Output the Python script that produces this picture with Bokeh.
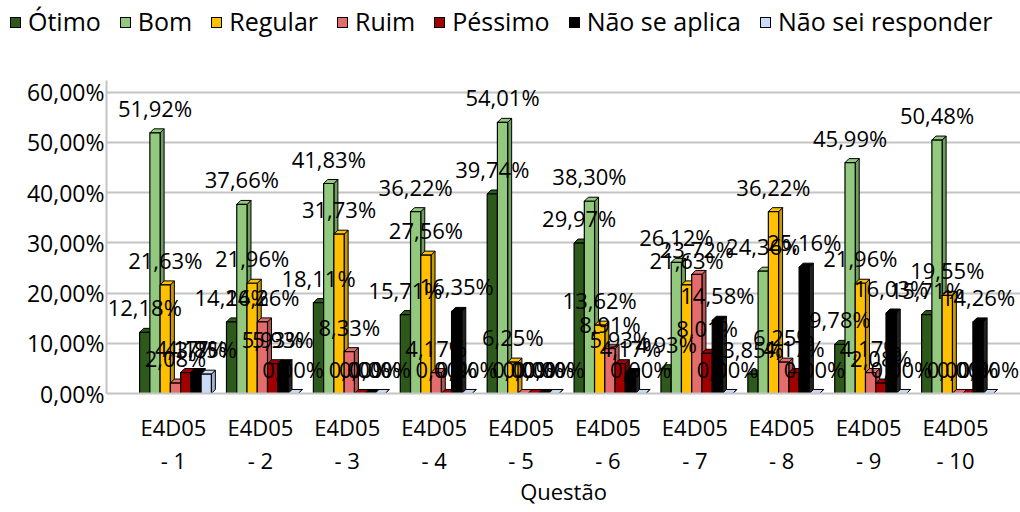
from bokeh.plotting import figure
from bokeh.layouts import column
from bokeh.models import ColumnDataSource, FixedTicker, Range1d, LabelSet, Div
from bokeh.core.properties import value
from bokeh.embed import file_html
from bokeh.resources import INLINE

# ---------------- data ----------------
categories = ["E4D05\n- 1", "E4D05\n- 2", "E4D05\n- 3", "E4D05\n- 4", "E4D05\n- 5",
              "E4D05\n- 6", "E4D05\n- 7", "E4D05\n- 8", "E4D05\n- 9", "E4D05\n- 10"]
series_names = ["Ótimo", "Bom", "Regular", "Ruim", "Péssimo", "Não se aplica", "Não sei responder"]

otimo = [12.18, 14.26, 18.11, 15.71, 39.74, 29.97, 4.93, 3.85, 9.78, 15.71]
bom = [51.92, 37.66, 41.83, 36.22, 54.01, 38.30, 26.12, 24.36, 45.99, 50.48]
regular = [21.63, 21.96, 31.73, 27.56, 6.25, 13.62, 21.63, 36.22, 21.96, 19.55]
ruim = [2.08, 14.26, 8.33, 4.17, 0.00, 8.91, 23.72, 6.25, 4.17, 0.00]
pessimo = [4.17, 5.93, 0.00, 0.00, 0.00, 5.93, 8.01, 4.17, 2.08, 0.00]
nao_se_aplica = [4.17, 5.93, 0.00, 16.35, 0.00, 4.17, 14.58, 25.16, 16.03, 14.26]
nao_sei = [3.85, 0.00, 0.00, 0.00, 0.00, 0.00, 0.00, 0.00, 0.00, 0.00]

y_ticks = [0, 10, 20, 30, 40, 50, 60]
x_title = "Questão"

# ---------------- style ----------------
front_colors = ["#2d5a1b", "#92c97e", "#ffc000", "#e46c6c", "#a00000", "#000000", "#c9daf8"]
side_colors = ["#1e3d12", "#6f9e5d", "#c99700", "#b45252", "#6e0000", "#222222", "#9fb3d1"]
FONT = "Open Sans"

all_series = [otimo, bom, regular, ruim, pessimo, nao_se_aplica, nao_sei]

W = 1020
LEG_H = 44
H = 512 - LEG_H
FRAME_TOP, FRAME_BOTTOM = 80 - LEG_H, 119

# ---------------- legend strip ----------------
items_html = "".join(
    f'<span style="display:inline-block;width:11px;height:11px;background:{c};'
    f'border:1px solid #000;margin-right:7px;flex:none"></span>'
    f'<span style="margin-right:19px;flex:none">{n}</span>'
    for n, c in zip(series_names, front_colors))
legend_html = (f'<div style="display:flex;align-items:center;height:{LEG_H}px;padding-left:10px;'
               f'font-family:\'{FONT}\';font-size:25px;color:#000;white-space:nowrap;'
               f'box-sizing:border-box">{items_html}</div>')
legend_div = Div(text=legend_html, width=W, height=LEG_H, margin=0)

# ---------------- main chart ----------------
p = figure(width=W, height=H, output_backend="svg", toolbar_location=None,
           x_range=Range1d(-0.771, 9.748), y_range=Range1d(0, 62.35),
           min_border_left=106, min_border_right=0,
           min_border_top=FRAME_TOP, min_border_bottom=FRAME_BOTTOM)
p.outline_line_color = None
p.background_fill_color = "white"
p.xgrid.grid_line_color = None
p.ygrid.grid_line_color = "#c4c4c4"
p.ygrid.grid_line_width = 2
p.ygrid.ticker = FixedTicker(ticks=y_ticks)

bw = 0.118          # bar front width (data units)
start = -0.39       # group left edge relative to category
dx, dy = 0.046, 0.8 # 3D depth offsets

for j, (name, vals) in enumerate(zip(series_names, all_series)):
    xs_c = [i + start + bw * (j + 0.5) for i in range(len(vals))]
    pxs, pys, pcol = [], [], []
    for xc, v in zip(xs_c, vals):
        l, r = xc - bw / 2, xc + bw / 2
        pxs.append([r, r + dx, r + dx, r]); pys.append([0, dy, v + dy, v]); pcol.append(side_colors[j])
        pxs.append([l, l + dx, r + dx, r]); pys.append([v, v + dy, v + dy, v]); pcol.append(front_colors[j])
    p.patches(xs=pxs, ys=pys, fill_color=pcol, line_color="black", line_width=1)
    src = ColumnDataSource(dict(x=xs_c, top=vals))
    p.vbar(x="x", top="top", bottom=0, width=bw, source=src,
           fill_color=front_colors[j], line_color="black", line_width=1.2)

# data labels on top
for j, vals in enumerate(all_series):
    xs_c = [i + start + bw * (j + 0.5) for i in range(len(vals))]
    src = ColumnDataSource(dict(x=xs_c, y=vals,
                                lab=[f"{v:.2f}".replace(".", ",") + "%" for v in vals]))
    p.add_layout(LabelSet(x="x", y="y", text="lab", source=src, text_font=value(FONT),
                          text_font_size=value("22px"), text_align="center", text_baseline="middle",
                          y_offset=25, text_color="black"))

# axes
p.yaxis.ticker = FixedTicker(ticks=y_ticks)
p.yaxis.major_label_overrides = {t: f"{t:.2f}".replace(".", ",") + "%" for t in y_ticks}
p.yaxis.major_label_text_font = FONT
p.yaxis.major_label_text_font_size = "23px"
p.yaxis.major_label_text_color = "black"
p.yaxis.axis_line_color = "#c4c4c4"
p.yaxis.axis_line_width = 2
p.yaxis.major_tick_line_color = None
p.yaxis.major_tick_out = 0
p.yaxis.minor_tick_line_color = None
p.yaxis.major_label_standoff = 2

p.xaxis.ticker = FixedTicker(ticks=list(range(len(categories))))
p.xaxis.major_label_overrides = {i: c for i, c in enumerate(categories)}
p.xaxis.major_label_text_font = FONT
p.xaxis.major_label_text_font_size = "22px"
p.xaxis.major_label_text_color = "black"
p.xaxis.major_label_text_line_height = 1.1
p.xaxis.axis_line_color = "#c4c4c4"
p.xaxis.axis_line_width = 2
p.xaxis.major_tick_line_color = None
p.xaxis.major_tick_out = 0
p.xaxis.minor_tick_line_color = None
p.xaxis.major_label_standoff = 18
p.xaxis.axis_label = x_title
p.xaxis.axis_label_text_font = FONT
p.xaxis.axis_label_text_font_size = "22px"
p.xaxis.axis_label_text_font_style = "normal"
p.xaxis.axis_label_text_color = "black"
p.xaxis.axis_label_standoff = -2

layout = column(legend_div, p, spacing=0)
open("out.html", "w").write(file_html(layout, INLINE))
